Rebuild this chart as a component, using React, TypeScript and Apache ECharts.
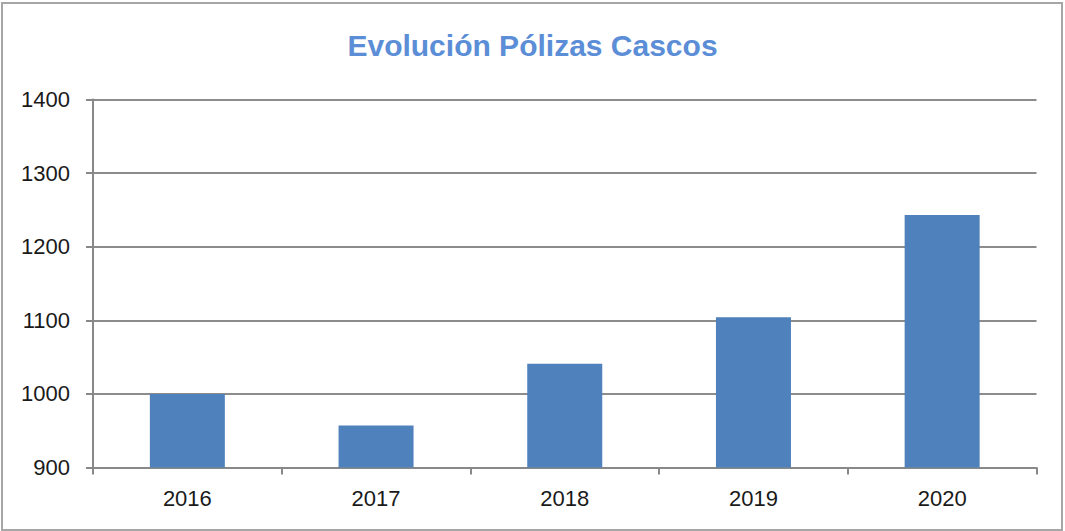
import React, { useEffect, useRef } from "react";
import * as echarts from "echarts";

const titleText = "Evolución Pólizas Cascos";
const years = ["2016", "2017", "2018", "2019", "2020"];
const polizas = [1000, 957, 1041, 1104, 1243];
const yMin = 900;
const yMax = 1400;
const yStep = 100;

const FONT = "'Liberation Sans', Arial, sans-serif";

export default function App() {
  const ref = useRef<HTMLDivElement>(null);
  useEffect(() => {
    if (!ref.current) return;
    const chart = echarts.init(ref.current, undefined, { renderer: "svg" });
    chart.setOption({
      animation: false,
      backgroundColor: "#ffffff",
      title: {
        text: titleText,
        left: "center",
        top: 25,
        textStyle: {
          fontFamily: FONT,
          fontSize: 30,
          fontWeight: "bold",
          color: "#5b8ed6",
        },
      },
      grid: { left: 93, top: 99.5, right: 28.5, bottom: 63.5, containLabel: false },
      xAxis: {
        type: "category",
        data: years,
        axisLine: { show: true, lineStyle: { color: "#888888", width: 2 } },
        axisTick: { show: true, alignWithLabel: false, length: 7, lineStyle: { color: "#888888", width: 2 } },
        axisLabel: { fontFamily: FONT, fontSize: 22, color: "#1a1a1a", margin: 20 },
        splitLine: { show: false },
      },
      yAxis: {
        type: "value",
        min: yMin,
        max: yMax,
        interval: yStep,
        axisLine: { show: true, lineStyle: { color: "#888888", width: 2 } },
        axisTick: { show: true, length: 7, lineStyle: { color: "#888888", width: 2 } },
        axisLabel: {
          fontFamily: FONT,
          fontSize: 22,
          color: "#1a1a1a",
          margin: 23,
          formatter: (v: number) => String(v),
        },
        splitLine: { show: true, lineStyle: { color: "#8c8c8c", width: 2 } },
      },
      series: [
        {
          type: "bar",
          data: polizas,
          barWidth: 75,
          itemStyle: { color: "#4f81bd" },
        },
      ],
      graphic: [
        {
          type: "rect",
          shape: { x: 2, y: 3, width: 1060, height: 527 },
          style: { fill: "none", stroke: "#a6a6a6", lineWidth: 2 },
          silent: true,
        },
      ],
    });
    return () => chart.dispose();
  }, []);
  return (
    <div
      ref={ref}
      style={{ position: "fixed", left: 0, top: 0, width: 1065, height: 531 }}
    />
  );
}
